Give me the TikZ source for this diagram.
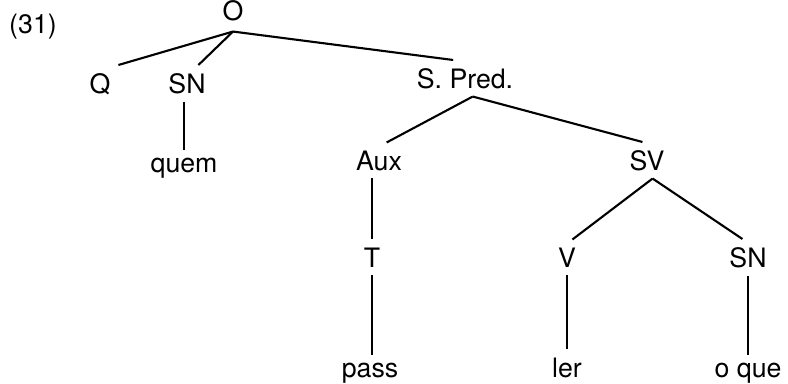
\documentclass[tikz,border=0pt]{standalone}
\usepackage{fontspec}
\setmainfont{TeX Gyre Heros}
\usepackage{tikz}

\begin{document}
\begin{tikzpicture}[x=0.025cm,y=-0.025cm,line width=1.5pt,
  cat/.style={anchor=base,inner sep=1.75mm,font=\fontsize{19}{22}\selectfont}]
\useasboundingbox (0,0) rectangle (788,383);
\node [cat] (ex) at (33,33) {(31)};
% top level
\node [cat,inner ysep=2.5mm] (o) at (233,20) {O};
\node [cat] (q) at (100,93) {Q};
\node [cat] (sn1) at (187,93) {SN};
\node [cat] (quem) at (184,172) {quem};
\node [cat] (spred) at (465,88) {S. Pred.};
% predicate
\node [cat] (aux) at (379,170) {Aux};
\node [cat] (t) at (372,267) {T};
\node [cat] (pass) at (370,377) {pass};
\node [cat] (sv) at (647,170) {SV};
\node [cat] (v) at (567,267) {V};
\node [cat] (ler) at (567,377) {ler};
\node [cat] (sn2) at (748,267) {SN};
\node [cat] (oque) at (748,377) {o que};

\draw (o.south) -- (q.north east);
\draw (o.south) -- (sn1.58);
\draw (o.south) -- (spred.123);
\draw (sn1.south -| quem) -- (quem.north);
\draw (spred.-67) -- (aux.67);
\draw (spred.-67) -- (sv.104);
\draw (aux.south -| t) -- (t.north);
\draw (t.south) -- (t.south |- pass.north);
\draw (sv.-73) -- (v.73);
\draw (sv.-73) -- (sn2.107);
\draw (v.south) -- (v.south |- ler.north);
\draw (sn2.south) -- (sn2.south |- oque.north);
\end{tikzpicture}
\end{document}
